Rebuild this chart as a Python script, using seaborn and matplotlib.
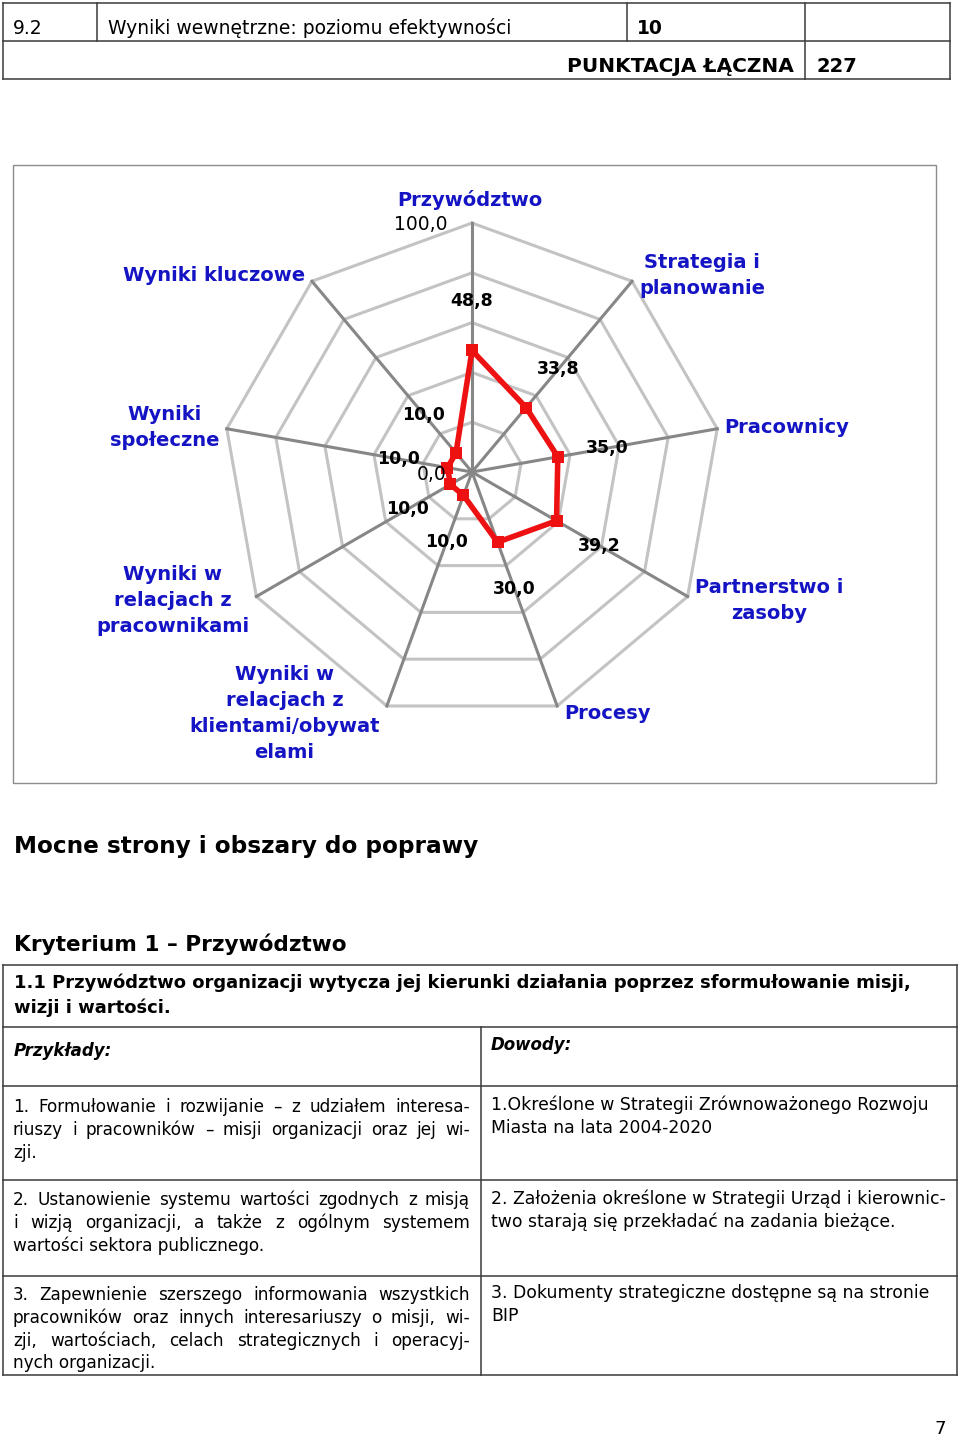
import numpy as np
import matplotlib
matplotlib.use("Agg")
import matplotlib.pyplot as plt
from matplotlib.lines import Line2D
from matplotlib.patches import Rectangle
import seaborn as sns

# chart data
criteria = ["Przywództwo", "Strategia i\nplanowanie", "Pracownicy", "Partnerstwo i\nzasoby", "Procesy",
            "Wyniki w\nrelacjach z\nklientami/obywat\nelami", "Wyniki w\nrelacjach z\npracownikami",
            "Wyniki\nspołeczne", "Wyniki kluczowe"]
scores = [48.8, 33.8, 35.0, 39.2, 30.0, 10.0, 10.0, 10.0, 10.0]
ring_levels = [20, 40, 60, 80, 100]

# page texts
header_cells = ["9.2", "Wyniki wewnętrzne: poziomu efektywności", "10"]
total_label = "PUNKTACJA ŁĄCZNA"
total_value = "227"
section_title = "Mocne strony i obszary do poprawy"
criterion_title = "Kryterium 1 – Przywództwo"
sub_title = ["1.1 Przywództwo organizacji wytycza jej kierunki działania poprzez sformułowanie misji,",
             "wizji i wartości."]
examples = [
    ["1. Formułowanie i rozwijanie – z udziałem interesa-",
     "riuszy i pracowników – misji organizacji oraz jej wi-",
     "zji."],
    ["2. Ustanowienie systemu wartości zgodnych z misją",
     "i wizją organizacji, a także z ogólnym systemem",
     "wartości sektora publicznego."],
    ["3. Zapewnienie szerszego informowania wszystkich",
     "pracowników oraz innych interesariuszy o misji, wi-",
     "zji, wartościach, celach strategicznych i operacyj-",
     "nych organizacji."],
]
evidence = [
    ["1.Określone w Strategii Zrównoważonego Rozwoju",
     "Miasta na lata 2004-2020"],
    ["2. Założenia określone w Strategii Urząd i kierownic-",
     "two starają się przekładać na zadania bieżące."],
    ["3. Dokumenty strategiczne dostępne są na stronie",
     "BIP"],
]

W, H = 960, 1438
plt.rcParams['font.family'] = ['DejaVu Sans']
fig = plt.figure(figsize=(W / 100, H / 100), dpi=100)
renderer = fig.canvas.get_renderer()


def fx(x):
    return x / W


def fy(y):
    return 1 - y / H


def hline(y, x0, x1, color='#3a3a3a', lw=1.1):
    fig.add_artist(Line2D([fx(x0), fx(x1)], [fy(y), fy(y)], color=color, lw=lw))


def vline(x, y0, y1, color='#3a3a3a', lw=1.1):
    fig.add_artist(Line2D([fx(x), fx(x)], [fy(y0), fy(y1)], color=color, lw=lw))


def put_line(text, x0, x1, y, justify=False, **kw):
    if not justify:
        fig.text(fx(x0), fy(y), text, va='center', **kw)
        return
    words = text.split(' ')
    arts = [fig.text(0, fy(y), wd, va='center', **kw) for wd in words]
    widths = [a.get_window_extent(renderer).width for a in arts]
    gap = max((x1 - x0 - sum(widths)) / (len(words) - 1), 2)
    x = x0
    for a, wd in zip(arts, widths):
        a.set_x(fx(x))
        x += wd + gap


# ---- header table
for y in [3, 41, 79]:
    hline(y, 3, 950)
vline(3, 3, 79)
vline(950, 3, 79)
vline(805, 3, 79)
vline(97, 3, 41)
vline(627, 3, 41)
fig.text(fx(13), fy(28), header_cells[0], va='center', fontsize=13.5)
fig.text(fx(108), fy(28), header_cells[1], va='center', fontsize=13.5)
fig.text(fx(637), fy(28), header_cells[2], va='center', fontsize=13.5, fontweight='bold')
fig.text(fx(794), fy(66), total_label, va='center', ha='right', fontsize=14.5, fontweight='bold')
fig.text(fx(817), fy(66), total_value, va='center', fontsize=14, fontweight='bold')

# ---- radar chart
fig.add_artist(Rectangle((fx(13), fy(783)), 923 / W, 618 / H, fill=False, ec='#8c8c8c', lw=1,
                         transform=fig.transFigure))
cx, cy, R = 472, 472, 249
ax = fig.add_axes([fx(cx - R), fy(cy + R), 2 * R / W, 2 * R / H], projection='polar')
ax.set_theta_zero_location('N')
ax.set_theta_direction(-1)
ax.set_ylim(0, 100)
ax.axis('off')

angles = np.deg2rad(np.arange(len(criteria)) * 360 / len(criteria))
closed = np.append(angles, angles[0])
for r in ring_levels:
    ax.plot(closed, [r] * len(closed), color='#c3c3c3', lw=2.2, clip_on=False, zorder=1)
for a in angles:
    ax.plot([a, a], [0, 100], color='#878787', lw=2.2, clip_on=False, zorder=2)

sns.lineplot(x=closed, y=scores + [scores[0]], sort=False, estimator=None, ax=ax,
             color='#ee1111', lw=4, marker='s', markersize=8, markeredgewidth=0, zorder=3)

for a, v in zip(angles, scores):
    ax.text(a, v + 20, f"{v:.1f}".replace('.', ','), ha='center', va='center',
            fontsize=12.5, fontweight='bold', color='black', zorder=4)

ax.annotate("0,0", xy=(0, 0), xytext=(-25, -2), textcoords='offset pixels',
            ha='right', va='center', fontsize=13.5, annotation_clip=False)
ax.annotate("100,0", xy=(0, 100), xytext=(-25, -2), textcoords='offset pixels',
            ha='right', va='center', fontsize=13.5, annotation_clip=False)

for a, name in zip(angles, criteria):
    s, c = np.sin(a), np.cos(a)
    if abs(s) < 0.1:
        ha, off = 'center', (-2, 23)
    elif s > 0:
        ha, off = 'left', (7, 8 * c)
    else:
        ha, off = 'right', (-7, 8 * c)
    ax.annotate(name, xy=(a, 100), xytext=off, textcoords='offset pixels', ha=ha, va='center',
                multialignment='center', fontsize=14, fontweight='bold', color='#1414c4',
                linespacing=1.45, annotation_clip=False)

# ---- section titles
fig.text(fx(14), fy(846), section_title, va='center', fontsize=16.7, fontweight='bold')
fig.text(fx(14), fy(944), criterion_title, va='center', fontsize=15.6, fontweight='bold')

# ---- criterion table
for y in [965, 1027, 1086, 1180, 1276, 1375]:
    hline(y, 3, 957)
vline(3, 965, 1375)
vline(957, 965, 1375)
vline(481, 1027, 1375)

for i, line in enumerate(sub_title):
    fig.text(fx(14), fy(983 + 25 * i), line, va='center', fontsize=13, fontweight='bold')
fig.text(fx(14), fy(1051), "Przykłady:", va='center', fontsize=12, fontweight='bold', style='italic')
fig.text(fx(491), fy(1045), "Dowody:", va='center', fontsize=12, fontweight='bold', style='italic')

for top, lines in zip([1107, 1200, 1295], examples):
    for i, line in enumerate(lines):
        put_line(line, 13, 470, top + 22.8 * i, justify=(i < len(lines) - 1), fontsize=12.2)
for top, lines in zip([1105, 1199, 1293], evidence):
    for i, line in enumerate(lines):
        put_line(line, 491, 947, top + 22.8 * i, fontsize=12.4)

fig.text(fx(946), fy(1429), "7", va='center', ha='right', fontsize=13)

fig.savefig("out.png", dpi=100)
